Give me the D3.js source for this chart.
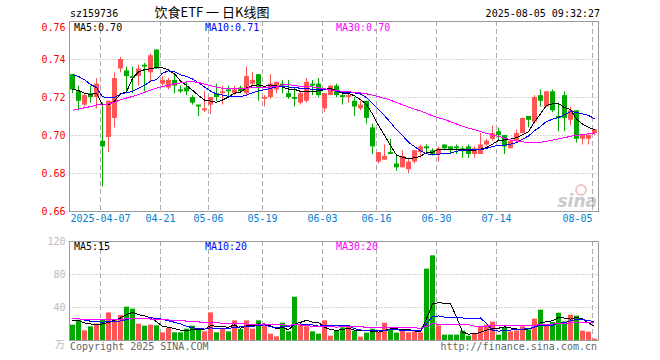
<!DOCTYPE html>
<html>
<head>
<meta charset="utf-8">
<script src="https://cdn.jsdelivr.net/npm/d3@7"></script>
<style>
  body { margin: 0; background: #fff; }
  svg text { font-family: "DejaVu Sans Mono", monospace; font-size: 10px; }
</style>
</head>
<body>
<svg id="chart" width="660" height="360"></svg>
<script>
// 饮食ETF daily K-line, 2025-03-28 .. 2025-08-05 (88 trading days)

const open = [0.732,0.723,0.716,0.722,0.720,0.697,0.699,0.709,0.735,0.734,
  0.731,0.731,0.737,0.733,0.745,0.727,0.725,0.729,0.724,0.725,
  0.720,0.716,0.713,0.716,0.722,0.722,0.724,0.722,0.725,0.722,
  0.727,0.732,0.719,0.720,0.724,0.727,0.722,0.720,0.717,0.718,
  0.727,0.727,0.714,0.721,0.726,0.721,0.720,0.718,0.714,0.718,
  0.704,0.686,0.687,0.691,0.685,0.683,0.682,0.686,0.691,0.694,
  0.692,0.690,0.695,0.694,0.694,0.693,0.694,0.690,0.690,0.695,
  0.698,0.702,0.700,0.693,0.697,0.701,0.710,0.707,0.721,0.715,
  0.723,0.710,0.721,0.708,0.713,0.698,0.698,0.701];
const high = [0.732,0.726,0.722,0.726,0.730,0.717,0.718,0.733,0.741,0.736,
  0.736,0.737,0.738,0.743,0.745,0.731,0.730,0.732,0.726,0.728,
  0.721,0.716,0.723,0.720,0.727,0.726,0.726,0.726,0.726,0.736,
  0.733,0.732,0.721,0.732,0.728,0.729,0.729,0.725,0.723,0.730,
  0.729,0.730,0.722,0.726,0.727,0.723,0.722,0.720,0.718,0.718,
  0.706,0.691,0.695,0.698,0.690,0.692,0.688,0.692,0.695,0.695,
  0.693,0.694,0.695,0.694,0.695,0.694,0.695,0.694,0.701,0.698,
  0.705,0.704,0.700,0.698,0.703,0.709,0.710,0.721,0.724,0.723,
  0.724,0.717,0.723,0.715,0.713,0.700,0.701,0.703];
const low = [0.722,0.713,0.715,0.717,0.714,0.673,0.691,0.704,0.733,0.722,
  0.722,0.726,0.723,0.728,0.735,0.726,0.724,0.722,0.722,0.721,
  0.716,0.710,0.712,0.711,0.718,0.716,0.720,0.721,0.722,0.721,
  0.726,0.718,0.715,0.719,0.722,0.722,0.719,0.715,0.716,0.717,
  0.721,0.720,0.712,0.721,0.720,0.716,0.717,0.710,0.713,0.706,
  0.690,0.685,0.687,0.690,0.681,0.683,0.680,0.685,0.688,0.691,
  0.689,0.686,0.692,0.690,0.690,0.688,0.688,0.688,0.690,0.694,
  0.697,0.697,0.690,0.693,0.696,0.701,0.704,0.706,0.715,0.715,
  0.712,0.702,0.702,0.705,0.696,0.695,0.695,0.700];
const close = [0.724,0.718,0.721,0.720,0.727,0.694,0.718,0.730,0.740,0.731,
  0.730,0.735,0.736,0.742,0.735,0.729,0.729,0.726,0.723,0.723,
  0.717,0.715,0.714,0.720,0.720,0.723,0.723,0.724,0.723,0.731,
  0.729,0.725,0.720,0.727,0.728,0.726,0.720,0.719,0.722,0.728,
  0.726,0.721,0.722,0.726,0.721,0.720,0.721,0.715,0.716,0.709,
  0.694,0.691,0.689,0.690,0.683,0.689,0.686,0.692,0.694,0.693,
  0.690,0.693,0.693,0.692,0.693,0.692,0.690,0.693,0.695,0.697,
  0.701,0.700,0.694,0.697,0.701,0.709,0.708,0.720,0.718,0.723,
  0.713,0.709,0.709,0.713,0.698,0.700,0.700,0.703];
// volume, 万手
const volume = [18.6,24.6,11.7,16.6,19.8,24.6,33.5,25.0,30.3,40.4,
  38.0,19.8,17.4,18.6,17.8,9.3,14.5,9.3,9.3,13.7,
  17.4,12.5,10.5,33.5,9.3,14.1,10.5,23.8,13.3,23.8,
  13.7,23.8,18.6,7.7,4.4,21.0,10.5,52.5,18.6,16.6,
  10.5,7.7,23.8,5.3,11.3,15.4,15.8,11.3,4.0,8.9,
  13.7,9.7,21.0,13.7,8.9,12.5,9.3,10.5,9.3,86.5,
  102.6,17.8,6.5,6.5,6.5,11.3,5.3,7.3,16.6,18.6,
  22.2,6.5,15.8,10.5,11.7,16.6,12.9,25.9,36.8,18.6,
  21.8,33.1,22.6,30.7,29.5,11.3,10.1,1.6];

// the 29 sessions before the window, only used to start the moving averages
const prevClose = [0.700,0.698,0.702,0.699,0.697,0.701,0.704,0.700,0.703,0.706,
  0.702,0.704,0.707,0.705,0.703,0.706,0.708,0.705,0.709,0.712,
  0.728,0.738,0.745,0.743,0.743,0.722,0.728,0.724,0.723];
const prevVolume = [22,27,31,24,19,26,23,28,21,25,30,24,22,27,26,23,20,25,28,27,
  34,27,31,26,30,24,28,22,26.4];

const tickIdx = [5, 15, 23, 32, 42, 51, 61, 71, 87];
const tickLabels = ["2025-04-07","04-21","05-06","05-19","06-03","06-16","06-30","07-14","08-05"];
const priceTicks = [0.66, 0.68, 0.70, 0.72, 0.74, 0.76];
const volTicks = [40, 80, 120];

const RED = "#ff5555", GREEN = "#00a800", GRID = "#aaa", FRAME = "#999";

function movingAvg(prev, vals, n) {
  const all = prev.concat(vals);
  return vals.map((v, i) => {
    const end = prev.length + i;
    return d3.mean(all.slice(end - n + 1, end + 1));
  });
}

const svg = d3.select("#chart");
const n = close.length;
const left = 69.5, right = 598.5;

const x = d3.scaleLinear().domain([0, n]).range([70, 598]);
const y = d3.scaleLinear().domain([0.66, 0.76]).range([211, 21]);
const yv = d3.scaleLinear().domain([0, 120]).range([340, 241]);

const up = d3.range(n).map(i => close[i] >= open[i]);

// header
svg.append("text").attr("x", 70).attr("y", 17).text("sz159736");
svg.append("text").attr("x", 212).attr("y", 17).attr("text-anchor", "middle")
  .style("font-family", "'Noto Sans CJK SC', sans-serif").style("font-size", "13px")
  .text("饮食ETF 一 日K线图");
svg.append("text").attr("x", 600).attr("y", 17).attr("text-anchor", "end").text("2025-08-05 09:32:27");

// grids
function drawGrid(ys, top, bottom) {
  const g = svg.append("g");
  g.selectAll("line.h").data(ys).join("line")
    .attr("x1", left).attr("x2", right)
    .attr("y1", d => Math.round(d) + 0.5).attr("y2", d => Math.round(d) + 0.5)
    .attr("stroke", GRID).attr("stroke-dasharray", "1,2");
  g.selectAll("line.v").data(tickIdx).join("line")
    .attr("x1", d => x(d) + 0.5).attr("x2", d => x(d) + 0.5)
    .attr("y1", top).attr("y2", bottom)
    .attr("stroke", GRID).attr("stroke-dasharray", "5,3");
  svg.append("rect").attr("x", left).attr("y", top + 0.5)
    .attr("width", right - left).attr("height", bottom - top)
    .attr("fill", "none").attr("stroke", FRAME);
}
drawGrid([0.68, 0.70, 0.72, 0.74].map(y), 21, 211);
drawGrid([40, 80].map(yv), 241, 340);

// price axis
svg.append("g").attr("transform", `translate(${left},0)`)
  .call(d3.axisLeft(y).tickValues(priceTicks).tickFormat(d3.format(".2f")).tickSize(0).tickPadding(4))
  .call(g => g.select(".domain").remove())
  .call(g => g.selectAll("text").attr("fill", "red").style("font-size", "10px")
    .style("font-family", "'DejaVu Sans Mono', monospace")
    .attr("dy", d => d === 0.76 ? "0.9em" : "0.32em"));

// volume axis
svg.append("g").attr("transform", `translate(${left},0)`)
  .call(d3.axisLeft(yv).tickValues(volTicks).tickSize(0).tickPadding(4))
  .call(g => g.select(".domain").remove())
  .call(g => g.selectAll("text").attr("fill", "#bbb").style("font-size", "10px")
    .style("font-family", "'DejaVu Sans Mono', monospace"));
svg.append("text").attr("x", 65).attr("y", 348).attr("text-anchor", "end").attr("fill", "#bbb")
  .style("font-family", "'Noto Sans CJK SC', sans-serif").text("万");

// date axis
svg.append("g").attr("transform", "translate(0,212)")
  .call(d3.axisBottom(x).tickValues(tickIdx).tickSize(0).tickPadding(3)
    .tickFormat((d, i) => tickLabels[i]))
  .call(g => g.select(".domain").remove())
  .call(g => g.selectAll("text").attr("fill", "#0080d0").style("font-size", "10px")
    .style("font-family", "'DejaVu Sans Mono', monospace")
    .attr("text-anchor", (d, i) => i === tickIdx.length - 1 ? "end" : "middle"));

// watermark
const wm = svg.append("g").attr("opacity", 0.45);
wm.append("circle").attr("cx", 581).attr("cy", 190).attr("r", 5)
  .attr("fill", "none").attr("stroke", "#e08080").attr("stroke-width", 2);
wm.append("text").attr("x", 597).attr("y", 207).attr("text-anchor", "end")
  .style("font-family", "'DejaVu Sans', sans-serif").style("font-size", "17px")
  .style("font-weight", "bold").style("font-style", "italic").attr("fill", "#888").text("sina");

// candles
const candles = svg.append("g");
candles.selectAll("line").data(d3.range(n)).join("line")
  .attr("x1", i => x(i) + 2.5).attr("x2", i => x(i) + 2.5)
  .attr("y1", i => y(high[i])).attr("y2", i => y(low[i]))
  .attr("stroke", i => up[i] ? RED : GREEN);
candles.selectAll("rect").data(d3.range(n)).join("rect")
  .attr("x", i => x(i)).attr("width", 5)
  .attr("y", i => y(Math.max(open[i], close[i])))
  .attr("height", i => Math.max(1, y(Math.min(open[i], close[i])) - y(Math.max(open[i], close[i]))))
  .attr("fill", i => up[i] ? RED : GREEN);

// volume bars
svg.append("g").selectAll("rect").data(d3.range(n)).join("rect")
  .attr("x", i => x(i)).attr("width", 5)
  .attr("y", i => yv(volume[i])).attr("height", i => yv(0) - yv(volume[i]))
  .attr("fill", i => up[i] ? RED : GREEN);

// moving averages
const maColors = { 5: "#000", 10: "#0000ff", 30: "#ff00ff" };
[5, 10, 30].forEach(k => {
  const pma = movingAvg(prevClose, close, k);
  const vma = movingAvg(prevVolume, volume, k);
  svg.append("path").datum(pma)
    .attr("d", d3.line().x((d, i) => x(i) + 2.5).y(d => y(d)))
    .attr("fill", "none").attr("stroke", maColors[k]).attr("shape-rendering", "crispEdges");
  svg.append("path").datum(vma)
    .attr("d", d3.line().x((d, i) => x(i) + 2.5).y(d => yv(d)))
    .attr("fill", "none").attr("stroke", maColors[k]).attr("shape-rendering", "crispEdges");
});

// legends
const priceLegend = ["MA5:0.70", "MA10:0.71", "MA30:0.70"];
const volLegend = ["MA5:15", "MA10:20", "MA30:20"];
const legendX = [74, 205, 336];
const legendColor = ["#000", "#0000ff", "#ff00ff"];
priceLegend.forEach((t, i) => svg.append("text").attr("x", legendX[i]).attr("y", 31)
  .attr("fill", legendColor[i]).text(t));
volLegend.forEach((t, i) => svg.append("text").attr("x", legendX[i]).attr("y", 250)
  .attr("fill", legendColor[i]).text(t));

// footer
svg.append("text").attr("x", 70).attr("y", 350).attr("fill", "#666").text("Copyright 2025 SINA.COM");
svg.append("text").attr("x", 597).attr("y", 350).attr("text-anchor", "end").attr("fill", "#666")
  .text("http://finance.sina.com.cn");
</script>
</body>
</html>
